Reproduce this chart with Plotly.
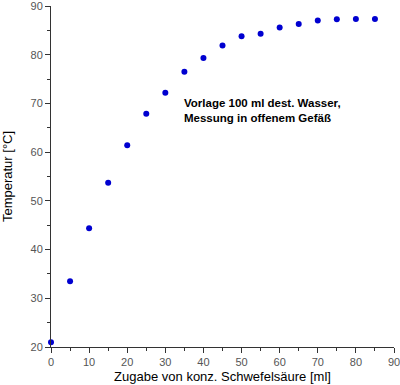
import plotly.graph_objects as go

zugabe_ml = [0, 5, 10, 15, 20, 25, 30, 35, 40, 45, 50, 55, 60, 65, 70, 75, 80, 85]
temperatur_c = [21.0, 33.5, 44.4, 53.7, 61.4, 67.9, 72.2, 76.5, 79.3, 81.9, 83.8, 84.3,
                85.6, 86.3, 87.0, 87.3, 87.35, 87.35]
x_ticks = [0, 10, 20, 30, 40, 50, 60, 70, 80, 90]
y_ticks = [20, 30, 40, 50, 60, 70, 80, 90]
note = "Vorlage 100 ml dest. Wasser,<br>Messung in offenem Gefäß"

FONT = "Liberation Sans, Arial, sans-serif"

fig = go.Figure()
fig.add_trace(go.Scatter(
    x=zugabe_ml, y=temperatur_c, mode="markers",
    marker=dict(color="#0000d0", size=6, line=dict(width=0)),
    cliponaxis=False, showlegend=False,
))

axis_common = dict(
    showgrid=False, zeroline=False, showline=True, linecolor="#333333", linewidth=1,
    ticks="outside", ticklen=5, tickwidth=1, tickcolor="#333333",
    tickfont=dict(family=FONT, size=11, color="#555555"),
    minor=dict(ticks="outside", ticklen=3, tickwidth=1, tickcolor="#333333", dtick=5),
    automargin=False, ticklabeloverflow="allow",
)

fig.update_layout(
    width=400, height=385,
    margin=dict(l=51, r=6, t=6, b=38),
    paper_bgcolor="white", plot_bgcolor="white",
    font=dict(family=FONT, color="black"),
    xaxis=dict(range=[0, 90], tickvals=x_ticks, **axis_common,
               title=dict(text="Zugabe von konz. Schwefelsäure [ml]",
                          font=dict(family=FONT, size=13, color="black"), standoff=4)),
    yaxis=dict(range=[20, 90], tickvals=y_ticks, **axis_common,
               title=dict(text="Temperatur [°C]",
                          font=dict(family=FONT, size=13, color="black"), standoff=14)),
    annotations=[dict(
        x=34.4, y=68.45, xref="x", yref="y", xanchor="left", yanchor="middle",
        text="<b>" + note + "</b>", showarrow=False, align="left",
        font=dict(family=FONT, size=11.5, color="black"),
    )],
)

fig.write_html(
    "out.html",
    config={"displayModeBar": False},
    post_script="document.body.style.margin='0';document.body.style.padding='0';",
)
